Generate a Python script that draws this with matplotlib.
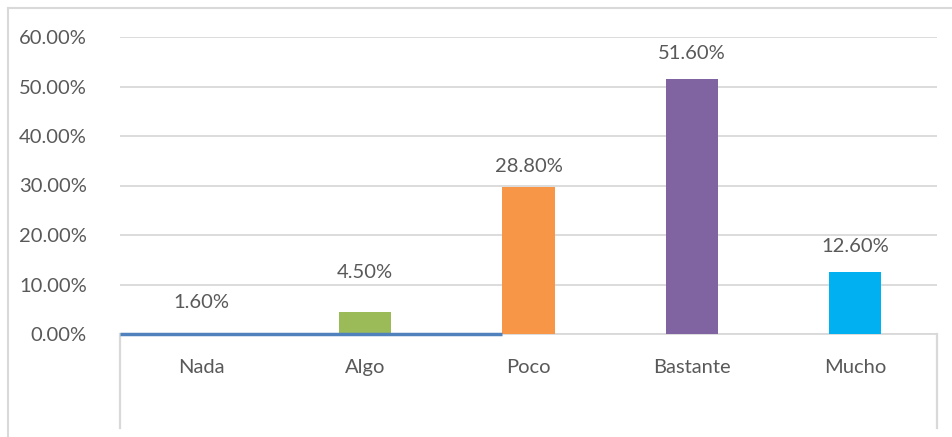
import matplotlib
matplotlib.use("Agg")
import matplotlib.pyplot as plt
from matplotlib.lines import Line2D

categories = ["Nada", "Algo", "Poco", "Bastante", "Mucho"]
bar_heights = [0.0, 4.5, 29.6, 51.6, 12.6]
label_values = [1.6, 4.5, 28.8, 51.6, 12.6]
label_texts = ["1.60%", "4.50%", "28.80%", "51.60%", "12.60%"]
y_ticks = [0, 10, 20, 30, 40, 50, 60]
y_tick_labels = ["0.00%", "10.00%", "20.00%", "30.00%", "40.00%", "50.00%", "60.00%"]

colors = ["#4F81BD", "#9BBB59", "#F79646", "#8064A2", "#00B0F0"]
text_color = "#595959"
grid_color = "#D9D9D9"

plt.rcParams['font.family'] = ['Lato', 'DejaVu Sans']

W, H = 952, 437
fig = plt.figure(figsize=(W / 100, H / 100), dpi=100)
ax = fig.add_axes([120 / W, 1 - 334 / H, (937 - 120) / W, (334 - 37) / H])

x = list(range(len(categories)))
bw = 0.32
ax.bar(x, bar_heights, width=bw, color=colors, zorder=3)

ax.set_xlim(-0.5, len(categories) - 0.5)
ax.set_ylim(0, 60)
ax.set_yticks(y_ticks)
ax.set_yticklabels(y_tick_labels)
ax.set_xticks(x)
ax.set_xticklabels(categories)
ax.tick_params(axis='y', length=0, pad=24, labelsize=14.5, labelcolor=text_color)
ax.tick_params(axis='x', length=0, pad=18, labelsize=14.5, labelcolor=text_color)
ax.grid(axis='y', color=grid_color, linewidth=1.3, zorder=0)
for s in ["top", "right", "left"]:
    ax.spines[s].set_visible(False)
ax.spines["bottom"].set_color(grid_color)
ax.spines["bottom"].set_linewidth(1.3)

# blue baseline segment from left edge to Poco bar
ax.hlines(0, -0.5, x[2] - bw / 2, color=colors[0], linewidth=2.5, zorder=4, clip_on=False)

# category axis box verticals
for xv in (-0.5, len(categories) - 0.5):
    ax.plot([xv, xv], [0, -0.3165], transform=ax.get_xaxis_transform(),
            color=grid_color, linewidth=1.6, clip_on=False, zorder=2)

offsets = [17, 28, 18, 18, 18]
for xi, v, t, off in zip(x, label_values, label_texts, offsets):
    ax.annotate(t, (xi, v), xytext=(0, off), textcoords="offset points",
                ha="center", va="center", fontsize=14.5, color=text_color)

# outer chart frame
fig.add_artist(Line2D([7.5 / W, 7.5 / W], [0, 1 - 8 / H], color=grid_color, linewidth=1.5))
fig.add_artist(Line2D([7.5 / W, 1], [1 - 8 / H, 1 - 8 / H], color=grid_color, linewidth=1.5))

fig.savefig("out.png", dpi=100, facecolor="white")
